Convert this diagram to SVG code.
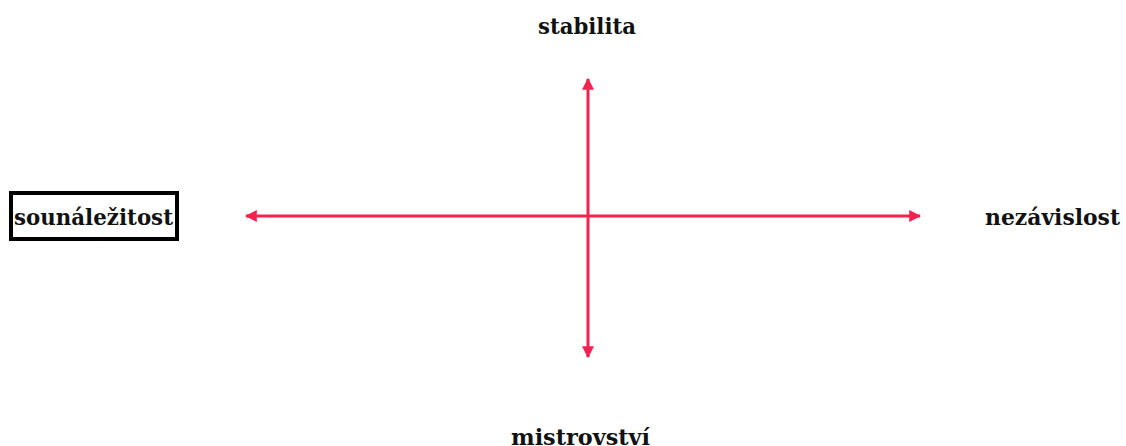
<svg xmlns="http://www.w3.org/2000/svg" width="1126" height="446" viewBox="0 0 1126 446">
<style>
.lbl{font-family:"DejaVu Serif","Liberation Serif",serif;font-weight:bold;font-size:22px;fill:#111;}
.ax{stroke:#f5224f;stroke-width:3;fill:none;}
</style>
<defs>
<marker id="ah" viewBox="0 0 10 10" refX="9" refY="5" markerWidth="4" markerHeight="4" orient="auto-start-reverse" markerUnits="strokeWidth">
<path d="M0,0 L10,5 L0,10 Z" fill="#f5224f"/>
</marker>
</defs>
<rect width="1126" height="446" fill="#fff"/>
<g id="connectors">
<line class="ax" x1="246" y1="216" x2="920" y2="216" marker-start="url(#ah)" marker-end="url(#ah)"/>
<line class="ax" x1="588" y1="79" x2="588" y2="357" marker-start="url(#ah)" marker-end="url(#ah)"/>
</g>
<g id="n-stabilita"><text class="lbl" x="538" y="34" textLength="98" lengthAdjust="spacingAndGlyphs">stabilita</text></g>
<g id="n-sounalezitost">
<rect x="11" y="193" width="166" height="46" fill="none" stroke="#000" stroke-width="4"/>
<text class="lbl" x="14" y="225" textLength="159" lengthAdjust="spacingAndGlyphs">sounáležitost</text>
</g>
<g id="n-nezavislost"><text class="lbl" x="985" y="225" textLength="135" lengthAdjust="spacingAndGlyphs">nezávislost</text></g>
<g id="n-mistrovstvi"><text class="lbl" x="511" y="445" textLength="139" lengthAdjust="spacingAndGlyphs">mistrovství</text></g>
</svg>
